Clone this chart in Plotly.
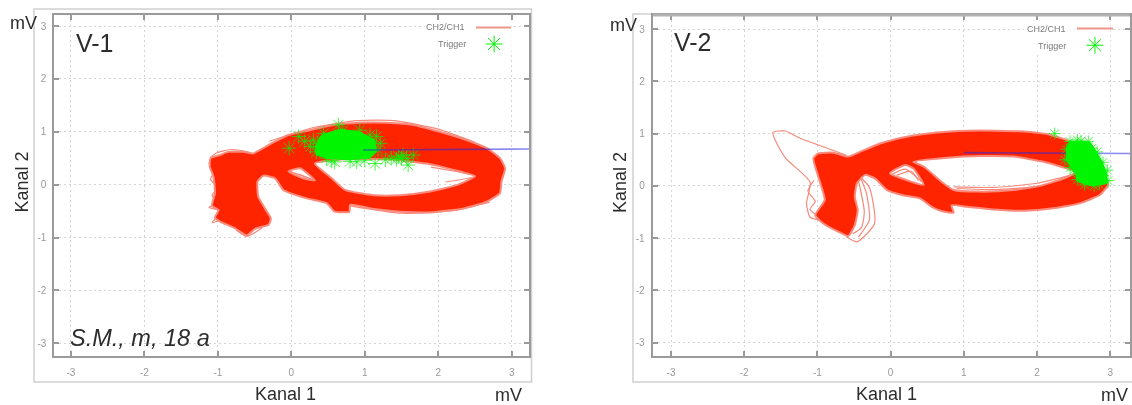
import plotly.graph_objects as go

W, H = 1132, 405

# ---- tick values / labels
tick_values = [-3, -2, -1, 0, 1, 2, 3]
tick_labels = ["-3", "-2", "-1", "0", "1", "2", "3"]

# ---- V-1: body of the CH2/CH1 traces (outer contour, large opening, small opening)
v1_outer_x = [-1.10,-0.97,-0.86,-0.65,-0.52,-0.27,-0.04,0.25,0.57,0.93,1.30,1.66,2.02,2.39,2.66,2.84,2.91,2.86,2.84,2.66,2.34,1.93,1.48,1.12,0.80,0.79,0.59,0.48,0.21,-0.11,-0.22,-0.38,-0.46,-0.45,-0.36,-0.28,-0.31,-0.49,-0.61,-0.77,-0.97,-1.04,-0.99,-1.08,-1.04,-1.06,-1.11,-1.10]
v1_outer_y = [0.50,0.56,0.62,0.62,0.59,0.78,0.94,1.03,1.13,1.17,1.17,1.13,1.00,0.84,0.69,0.50,0.31,0.06,-0.16,-0.32,-0.45,-0.52,-0.51,-0.46,-0.38,-0.51,-0.51,-0.35,-0.26,-0.10,0.12,0.17,0.06,-0.23,-0.45,-0.64,-0.76,-0.83,-0.96,-0.82,-0.70,-0.62,-0.48,-0.40,-0.16,0.15,0.34,0.50]
v1_hole_x = [0.32,0.55,0.73,1.12,1.48,1.89,2.25,2.50,2.21,1.84,1.30,0.71,0.32]
v1_hole_y = [0.40,0.12,-0.10,-0.20,-0.20,-0.13,-0.01,0.16,0.28,0.40,0.48,0.48,0.40]
v1_gap_x = [-0.04,0.16,0.32,0.12,-0.04]
v1_gap_y = [0.25,0.12,0.08,0.31,0.25]
# pale single sweeps
v1_pale_x = [-1.05,-1.12,-1.03,-1.10,-1.00,-1.08,-1.00,-1.12,-0.95,-1.08,-0.90,None,-0.30,0.30,0.90,1.40,2.00,2.50,None,0.80,1.50,2.20,2.70,None,1.90,2.50,2.10,None,-0.02,0.30,0.10,None,-0.75,-0.61,-0.40,None,-1.10,-1.02,-0.85,-0.70,-0.55]
v1_pale_y = [0.55,0.40,0.30,0.10,-0.05,-0.20,-0.35,-0.43,-0.50,-0.72,-0.62,None,0.82,1.08,1.21,1.21,1.05,0.80,None,-0.40,-0.54,-0.49,-0.33,None,0.33,0.16,0.05,None,0.25,0.09,0.20,None,-0.86,-0.98,-0.82,None,0.52,0.60,0.66,0.65,0.60]
# ---- V-1: trigger points
v1_core_x = [0.32,0.41,0.66,0.93,1.14,1.16,1.07,0.75,0.48,0.34,0.32]
v1_core_y = [0.72,0.94,1.05,1.00,0.84,0.62,0.50,0.47,0.50,0.56,0.72]
v1_trig_x = [0.64,0.10,-0.03,0.30,0.59,0.89,1.14,1.59,1.36,1.52,1.21,1.16,0.34,0.44,0.93,1.07,0.48,1.57,1.43,1.66,0.18,0.70,0.55,0.80,1.00,1.28,0.36,1.18,0.26,1.46,1.50]
v1_trig_y = [1.13,0.91,0.69,0.84,0.43,0.43,0.40,0.37,0.50,0.56,0.78,0.91,0.62,0.97,1.03,0.94,0.50,0.50,0.48,0.56,0.82,1.02,0.45,0.44,0.46,0.47,0.78,0.66,0.72,0.53,0.50]
v1_base_x = [0.98, 3.30]
v1_base_y = [0.655, 0.675]

# ---- V-2: body
v2_outer_x = [-1.056,-0.99,-0.78,-0.58,-0.42,-0.145,0.22,0.63,1.04,1.45,1.81,2.13,2.40,2.68,2.86,2.93,2.97,2.86,2.59,2.22,1.81,1.40,1.04,0.83,0.86,0.72,0.56,0.40,0.17,-0.05,-0.21,-0.35,-0.46,-0.49,-0.45,-0.49,-0.58,-0.71,-0.92,-1.03,-0.90,-0.96,-1.056]
v2_outer_y = [0.526,0.62,0.635,0.56,0.65,0.81,0.94,1.02,1.055,1.055,1.04,0.99,0.88,0.65,0.43,0.21,0.02,-0.17,-0.33,-0.43,-0.475,-0.45,-0.40,-0.37,-0.51,-0.49,-0.40,-0.24,-0.18,-0.08,0.14,0.21,0.05,-0.21,-0.46,-0.75,-0.96,-0.88,-0.72,-0.56,-0.27,0.05,0.526]
v2_hole_x = [0.31,0.45,0.72,0.86,1.22,1.68,2.04,2.36,2.54,2.36,2.09,1.68,1.22,0.77,0.31]
v2_hole_y = [0.46,0.37,0.05,-0.08,-0.11,-0.08,0.00,0.14,0.27,0.35,0.46,0.56,0.57,0.54,0.46]
v2_gap_x = [-0.01,0.22,0.45,0.31,0.20,-0.01]
v2_gap_y = [0.24,0.11,0.02,0.33,0.40,0.24]
v2_pale_x = [-0.61,-1.25,-1.44,-1.61,-1.44,-1.10,-1.15,-1.10,-0.98,None,-1.05,-1.13,-1.03,-1.10,-0.95,None,-0.41,-0.29,-0.22,-0.46,-0.61,None,-0.45,-0.36,-0.40,-0.52,None,-0.40,-0.33,-0.29,-0.44,None,0.86,1.40,2.00,2.50,None,0.90,1.45,2.05,2.52,None,0.02,0.20,0.42,None,0.08,0.28,0.38,None,2.60,2.97,2.80]
v2_pale_y = [0.59,0.92,1.05,1.02,0.54,0.07,-0.34,-0.60,-0.65,None,0.10,-0.10,-0.30,-0.45,-0.62,None,0.16,-0.03,-0.72,-1.07,-0.97,None,0.16,-0.50,-0.80,-0.92,None,0.12,-0.15,-0.65,-0.98,None,-0.02,-0.03,0.05,0.22,None,-0.05,-0.07,0.00,0.20,None,0.22,0.32,0.08,None,0.20,0.28,0.10,None,0.00,-0.03,-0.12]
v2_core_x = [2.40,2.45,2.72,2.78,2.88,2.95,2.96,2.75,2.55,2.52,2.40,2.40]
v2_core_y = [0.72,0.86,0.84,0.72,0.49,0.24,0.05,0.00,0.08,0.24,0.49,0.72]
v2_trig_x = [2.24,2.45,2.55,2.70,2.40,2.38,2.82,2.90,2.96,2.97,2.85,2.65,2.55,2.50,2.75,2.60,2.90,2.45,2.78]
v2_trig_y = [1.00,0.85,0.88,0.85,0.70,0.50,0.65,0.45,0.30,0.10,0.03,0.02,0.12,0.30,0.72,0.86,0.20,0.35,0.00]
v2_base_x = [1.00, 3.30]
v2_base_y = [0.635, 0.62]

# key sample positions
key1 = (2.76, 2.66)
key2 = (2.79, 2.69)

RED, PALE, GREEN = "#ff2400", "#f58a7c", "#00f500"
BLUE = "rgba(40,40,225,0.55)"
FONT = "Liberation Sans, Arial, sans-serif"

fig = go.Figure()


def join(*parts):
    out = []
    for p in parts:
        if out:
            out.append(None)
        out.extend(p)
    return out


def panel(xa, ya, outer, holes, pale, core, trig, base, key, base_on_top, star):
    kw = dict(xaxis=xa, yaxis=ya, showlegend=False, hoverinfo="skip")
    fig.add_trace(go.Scatter(x=pale[0], y=pale[1], mode="lines", name="CH2/CH1",
                             line=dict(color=PALE, width=1.2, shape="spline", smoothing=0.6), **kw))
    xs = join(outer[0], *[h[0] for h in holes])
    ys = join(outer[1], *[h[1] for h in holes])
    fig.add_trace(go.Scatter(x=xs, y=ys, mode="lines", fill="toself", fillcolor=RED, name="CH2/CH1",
                             line=dict(color="#fb8a7c", width=2, shape="spline", smoothing=0.5), **kw))
    blue = go.Scatter(x=base[0], y=base[1], mode="lines", name="baseline",
                      line=dict(color=BLUE, width=1.6), **kw)
    if not base_on_top:
        fig.add_trace(blue)
    fig.add_trace(go.Scatter(x=core[0], y=core[1], mode="lines", fill="toself", fillcolor=GREEN,
                             name="Trigger", line=dict(color=GREEN, width=1), **kw))
    fig.add_trace(go.Scatter(x=trig[0], y=trig[1], mode="markers", name="Trigger",
                             marker=dict(symbol="asterisk-open", size=star, color=GREEN, opacity=0.7,
                                         line=dict(color="#22f022", width=1)), **kw))
    if base_on_top:
        fig.add_trace(blue)
    fig.add_trace(go.Scatter(x=[key[0]], y=[key[1]], mode="markers", name="Trigger",
                             marker=dict(symbol="asterisk-open", size=14, color=GREEN,
                                         line=dict(color="#22ee22", width=1)), **kw))


panel("x", "y", (v1_outer_x, v1_outer_y), [(v1_hole_x, v1_hole_y), (v1_gap_x, v1_gap_y)],
      (v1_pale_x, v1_pale_y), (v1_core_x, v1_core_y), (v1_trig_x, v1_trig_y),
      (v1_base_x, v1_base_y), key1, True, 12)
panel("x2", "y2", (v2_outer_x, v2_outer_y), [(v2_hole_x, v2_hole_y), (v2_gap_x, v2_gap_y)],
      (v2_pale_x, v2_pale_y), (v2_core_x, v2_core_y), (v2_trig_x, v2_trig_y),
      (v2_base_x, v2_base_y), key2, False, 10)


def fx(p):
    return p / W


def fy(p):
    return 1 - p / H


def axis(dom, rng, standoff, **extra):
    return dict(domain=dom, range=rng, tickmode="array", tickvals=tick_values, ticktext=tick_labels,
                ticks="inside", ticklen=5, tickwidth=1.5, tickcolor="#999",
                showline=True, linecolor="#9a9a9a", linewidth=2, mirror="allticks",
                showgrid=True, gridcolor="#d4d4d4", griddash="2px,3px", gridwidth=1, zeroline=False,
                tickfont=dict(family=FONT, size=10, color="#999"), ticklabelstandoff=standoff, **extra)


def note(text, px, py, size=18, color="#2c2c2c", italic=False, angle=0):
    return dict(text=f"<i>{text}</i>" if italic else text, x=fx(px), y=fy(py), xref="paper", yref="paper",
                showarrow=False, xanchor="center", yanchor="middle", textangle=angle,
                font=dict(family=FONT, size=size, color=color))


annotations = [
    note("mV", 23.5, 23), note("Kanal 2", 21.5, 182, angle=-90), note("Kanal 1", 285, 394), note("mV", 508.5, 395),
    note("V-1", 94.5, 43, size=25), note("S.M., m, 18 a", 140, 338, size=23.5, italic=True),
    note("CH2/CH1", 445, 27.5, size=9, color="#7a7a7a"), note("Trigger", 451.5, 44.5, size=9, color="#7a7a7a"),
    note("mV", 623, 25), note("Kanal 2", 620, 183, angle=-90), note("Kanal 1", 886.5, 394), note("mV", 1114, 395),
    note("V-2", 693, 42, size=25),
    note("CH2/CH1", 1046, 28.5, size=9, color="#7a7a7a"), note("Trigger", 1052, 45.5, size=9, color="#7a7a7a"),
]


def rect_px(x0, y0, x1, y1, color, width, layer="below"):
    return dict(type="rect", xref="paper", yref="paper", x0=fx(x0), x1=fx(x1), y0=fy(y0), y1=fy(y1),
                line=dict(color=color, width=width), layer=layer)


def line_px(x0, y0, x1, y1, color, width):
    return dict(type="line", xref="paper", yref="paper", x0=fx(x0), x1=fx(x1), y0=fy(y0), y1=fy(y1),
                line=dict(color=color, width=width), layer="above")


def blank(xref, yref, x0, x1, y0, y1):
    return dict(type="rect", xref=xref, yref=yref, x0=x0, x1=x1, y0=y0, y1=y1,
                fillcolor="white", line=dict(width=0), layer="between")


shapes = [
    rect_px(34, 9, 531.5, 382, "#cfcfcf", 1.5),
    rect_px(633, 14, 1140, 382, "#cfcfcf", 1.5),
    line_px(653, 15, 1130, 15, "#b0b0b0", 3),
    blank("x", "y", 1.82, 3.0, 2.52, 3.205),
    blank("x2", "y2", 1.82, 3.0, 2.52, 3.26),
    line_px(476, 27.5, 511, 27.5, "#f0958a", 1.8),
    line_px(1077, 28.5, 1113, 28.5, "#f0958a", 1.8),
]

fig.update_layout(
    width=W, height=H, margin=dict(l=0, r=0, t=0, b=0), paper_bgcolor="white", plot_bgcolor="white",
    showlegend=False, annotations=annotations, shapes=shapes,
    xaxis=axis([fx(54.3), fx(529)], [-3.227, 3.235], 6, anchor="y"),
    yaxis=axis([fy(356), fy(15)], [-3.24, 3.208], 4, anchor="x"),
    xaxis2=axis([fx(652.7), fx(1130)], [-3.25, 3.269], 6, anchor="y2"),
    yaxis2=axis([fy(356), fy(15)], [-3.254, 3.268], 4, anchor="x2"),
)

fig.write_html("out.html", config={"displayModeBar": False},
               post_script="document.body.style.margin='0';"
                           "document.querySelector('.plotly-graph-div').style.filter='blur(0.7px)';")
